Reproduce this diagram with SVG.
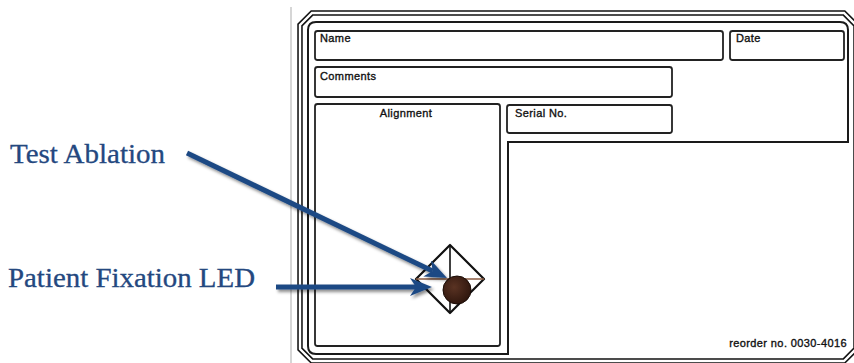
<svg xmlns="http://www.w3.org/2000/svg" width="854" height="363" viewBox="0 0 854 363">
  <defs>
    <style>
      .box { fill: none; stroke: #222; stroke-width: 1.8; }
      .lbl { font-family: "Liberation Sans", Arial, sans-serif; font-size: 11px; fill: #111; stroke: #111; stroke-width: 0.35px; letter-spacing: 0.4px; }
      .call { font-family: "Liberation Serif", "Times New Roman", serif; font-size: 27px; fill: #24487f; stroke: #24487f; stroke-width: 0.3px; }
      .arrow { stroke: #1f4a84; stroke-width: 5; fill: none; marker-end: url(#ah); }
    </style>
    <marker id="ah" markerUnits="userSpaceOnUse" markerWidth="22" markerHeight="18" viewBox="0 0 22 18" refX="6" refY="9" orient="auto">
      <path d="M0,0 L22,9 L0,18 L6,9 Z" fill="#1f4a84"/>
    </marker>
    <filter id="sh" x="-10%" y="-10%" width="130%" height="140%">
      <feDropShadow dx="2" dy="2.5" stdDeviation="1.5" flood-color="#000" flood-opacity="0.45"/>
    </filter>
    <radialGradient id="led" cx="0.4" cy="0.4" r="0.7">
      <stop offset="0" stop-color="#5a3323"/>
      <stop offset="1" stop-color="#2a130b"/>
    </radialGradient>
  </defs>

  <rect width="854" height="363" fill="#fff"/>

  <g id="form">
    <line x1="291" y1="7" x2="291" y2="363" stroke="#c8c8c8" stroke-width="1.5"/>
    <path d="M312,13 H844 L856,25 V349 L844,361 H312 L300,349 V25 Z" fill="none" stroke="#111" stroke-width="5.5"/>
    <path d="M312,13 H844 L856,25 V349 L844,361 H312 L300,349 V25 Z" fill="none" stroke="#fff" stroke-width="2.4"/>
    <path d="M316,22 H840 Q848,22 848,30 V142 H508 V354 H316 Q308,354 308,346 V30 Q308,22 316,22 Z" fill="none" stroke="#1a1a1a" stroke-width="2"/>
  </g>

  <g id="name-field">
    <rect class="box" x="315" y="31" width="408" height="29" rx="2.5"/>
    <text class="lbl" x="320" y="42">Name</text>
  </g>
  <g id="date-field">
    <rect class="box" x="730" y="31" width="114" height="29" rx="2.5"/>
    <text class="lbl" x="736" y="42">Date</text>
  </g>
  <g id="comments-field">
    <rect class="box" x="315" y="67" width="357" height="30" rx="2.5"/>
    <text class="lbl" x="320" y="80">Comments</text>
  </g>
  <g id="serial-field">
    <rect class="box" x="507" y="105" width="165" height="28" rx="2.5"/>
    <text class="lbl" x="515" y="117">Serial No.</text>
  </g>
  <g id="alignment-field">
    <rect class="box" x="315" y="104" width="185" height="242" rx="2.5"/>
    <text class="lbl" x="406" y="117" text-anchor="middle">Alignment</text>
  </g>

  <g id="target">
    <path d="M450,245 L484,279 L450,313 L416,279 Z" fill="#fff" stroke="#111" stroke-width="2.2" stroke-linejoin="round"/>
    <line x1="450" y1="245" x2="450" y2="313" stroke="#111" stroke-width="1.6"/>
    <line x1="416" y1="279" x2="484" y2="279" stroke="#8a5a40" stroke-width="1.6"/>
    <circle id="led-dot" cx="457" cy="290" r="14" fill="url(#led)" stroke="#1a0c06" stroke-width="1"/>
  </g>

  <g id="reorder">
    <text class="lbl" x="847" y="347" text-anchor="end" letter-spacing="0">reorder no. 0030-4016</text>
  </g>

  <g id="callout-test-ablation">
    <text class="call" x="10" y="163" textLength="155" lengthAdjust="spacingAndGlyphs">Test Ablation</text>
  </g>
  <g id="callout-patient-fixation">
    <text class="call" x="8" y="287" textLength="247" lengthAdjust="spacingAndGlyphs">Patient Fixation LED</text>
  </g>

  <g id="connectors" filter="url(#sh)">
    <line class="arrow" x1="187" y1="153" x2="432.6" y2="271.1"/>
    <line class="arrow" x1="276" y1="287" x2="416" y2="287"/>
  </g>
</svg>
